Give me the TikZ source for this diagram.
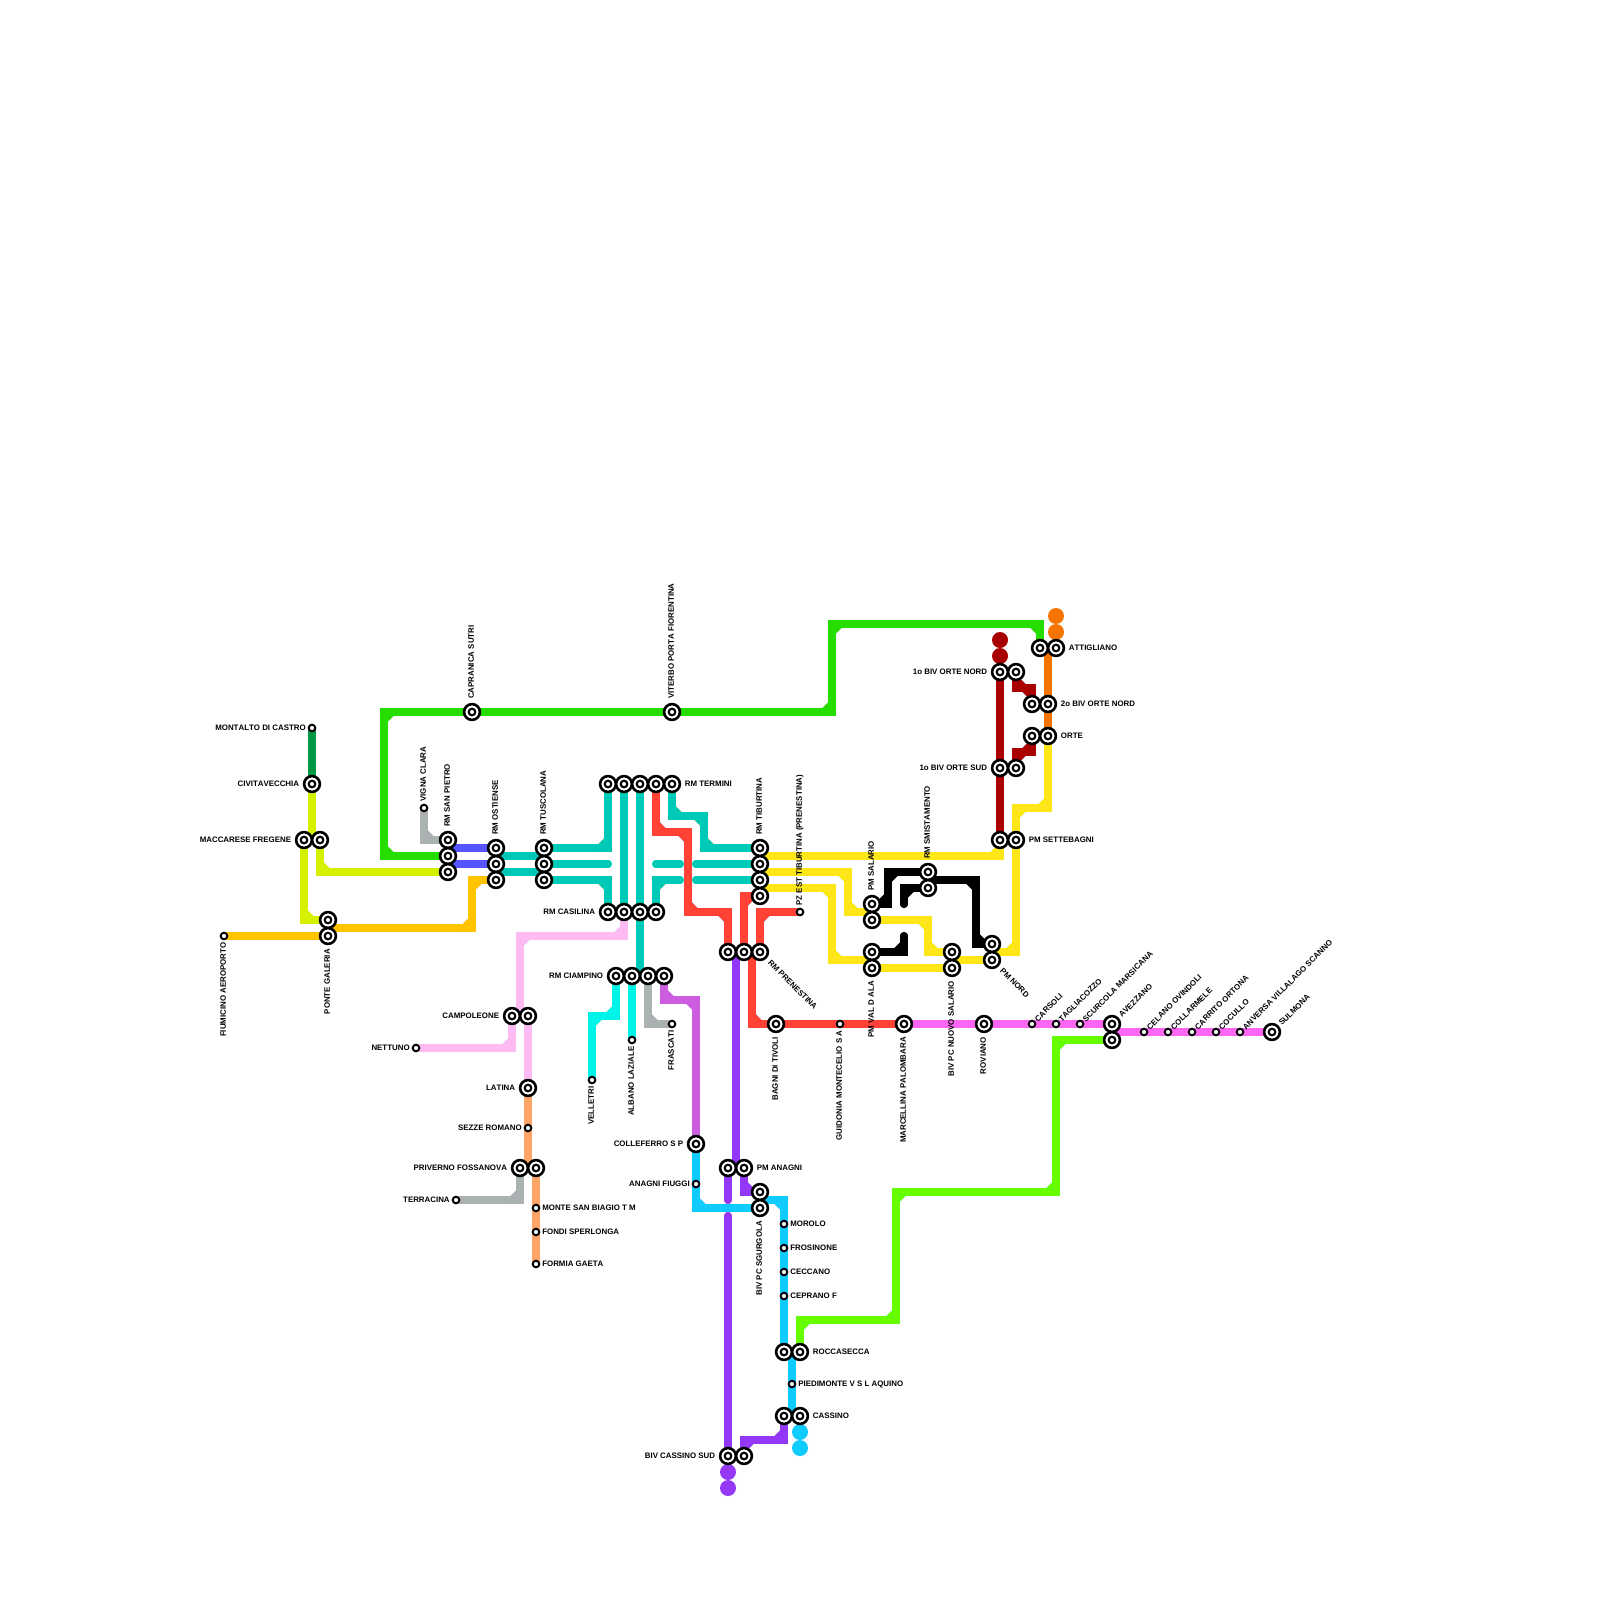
\documentclass[tikz,border=0pt]{standalone}
\usepackage{fontspec}
\setmainfont[Kerning=Off]{Liberation Sans}
\usetikzlibrary{backgrounds, decorations.pathreplacing}

\definecolor{railgreen}{HTML}{26DD00}
\definecolor{raildkgreen}{HTML}{009A44}
\definecolor{railcitron}{HTML}{D6F000}
\definecolor{railamber}{HTML}{FFC300}
\definecolor{railgrey}{HTML}{ABB0B2}
\definecolor{railblue}{HTML}{5555FF}
\definecolor{railteal}{HTML}{00C9B5}
\definecolor{railred}{HTML}{FF4136}
\definecolor{railyellow}{HTML}{FFE619}
\definecolor{railpink}{HTML}{FCBBF2}
\definecolor{railpeach}{HTML}{FFA566}
\definecolor{railaqua}{HTML}{00F5E8}
\definecolor{raillilac}{HTML}{CC5CE0}
\definecolor{railpurple}{HTML}{9438F5}
\definecolor{railsky}{HTML}{0FCBFF}
\definecolor{raildkred}{HTML}{A80000}
\definecolor{railorange}{HTML}{F57500}
\definecolor{railmagenta}{HTML}{FF66F5}
\definecolor{raillime}{HTML}{66FF00}

\newcommand{\metroline}[2]{%
  \def\railcol{#1}%
  \draw[track,#1] #2;
  \draw[chamfer] #2;}

\begin{document}
\begin{tikzpicture}[
    x=1pt, y=-1pt,
    track/.style={line width=8pt, line cap=round, line join=miter},
    chamfer/.style={rounded corners=8pt, decorate, decoration={show path construction,
        lineto code={\draw[track,\railcol] (\tikzinputsegmentfirst) -- (\tikzinputsegmentlast);},
        curveto code={\draw[track,\railcol] (\tikzinputsegmentfirst) -- (\tikzinputsegmentlast);}}},
    bigstop/.style={circle, draw=black, fill=white, line width=2.6pt, inner sep=0pt, minimum size=15.8pt,
                    path picture={\draw[line width=2.1pt] (path picture bounding box.center) circle (3.3pt);}},
    smallstop/.style={circle, draw=black, fill=white, line width=2pt, inner sep=0pt, minimum size=6.6pt},
    enddot/.style={circle, inner sep=0pt, minimum size=16pt},
    lbl/.style={inner sep=0pt, text height=5.7pt, text depth=0pt, font=\bfseries\fontsize{7.9}{8}\selectfont},
    lblw/.style={lbl, anchor=east},
    lble/.style={lbl, anchor=west},
    lblup/.style={lbl, rotate=90, anchor=west},
    lbldn/.style={lbl, rotate=90, anchor=east},
    lblne/.style={lbl, rotate=45, anchor=west},
    lblse/.style={lbl, rotate=-45, anchor=west}
]
\useasboundingbox (0,0) rectangle (1600,1600);

% stations
\foreach \n/\x/\y in {civita/312/784, macc1/304/840, macc2/320/840, galeria1/328/920, galeria2/328/936,
    capranica/472/712, viterbo/672/712, sanp1/448/840, sanp2/448/856, sanp3/448/872,
    ost1/496/848, ost2/496/864, ost3/496/880, tusc1/544/848, tusc2/544/864, tusc3/544/880,
    term1/608/784, term2/624/784, term3/640/784, term4/656/784, term5/672/784,
    tib1/760/848, tib2/760/864, tib3/760/880, tib4/760/896,
    cas1/608/912, cas2/624/912, cas3/640/912, cas4/656/912,
    ciamp1/616/976, ciamp2/632/976, ciamp3/648/976, ciamp4/664/976,
    pren1/728/952, pren2/744/952, pren3/760/952, bagni/776/1024,
    salario1/872/904, salario2/872/920, valala1/872/952, valala2/872/968,
    smist1/928/872, smist2/928/888, nsalario1/952/952, nsalario2/952/968,
    pmnord1/992/944, pmnord2/992/960, sette1/1000/840, sette2/1016/840,
    ortes1/1000/768, ortes2/1016/768, orten1/1000/672, orten2/1016/672,
    bivn1/1032/704, bivn2/1048/704, orte1/1032/736, orte2/1048/736,
    attig1/1040/648, attig2/1056/648, marcellina/904/1024, roviano/984/1024,
    avezz1/1112/1024, avezz2/1112/1040, sulmona/1272/1032,
    campo1/512/1016, campo2/528/1016, latina/528/1088, priv1/520/1168, priv2/536/1168,
    colleferro/696/1144, anagni1/728/1168, anagni2/744/1168, sgur1/760/1192, sgur2/760/1208,
    rocca1/784/1352, rocca2/800/1352, cassino1/784/1416, cassino2/800/1416,
    bivcas1/728/1456, bivcas2/744/1456}
    \node[bigstop] (\n) at (\x,\y) {};

\foreach \n/\x/\y in {montalto/312/728, fiumicino/224/936, vigna/424/808, pzest/800/912, guidonia/840/1024,
    carsoli/1032/1024, tagliacozzo/1056/1024, scurcola/1080/1024,
    celano/1144/1032, collarmele/1168/1032, carrito/1192/1032, cocullo/1216/1032, anversa/1240/1032,
    nettuno/416/1048, sezze/528/1128, terracina/456/1200,
    biagio/536/1208, fondi/536/1232, formia/536/1264,
    velletri/592/1080, albano/632/1040, frascati/672/1024, fiuggi/696/1184,
    morolo/784/1224, frosinone/784/1248, ceccano/784/1272, ceprano/784/1296, piedimonte/792/1384}
    \node[smallstop] (\n) at (\x,\y) {};

% points half way between two stations
\foreach \n/\x/\y in {maccm/312/840, galeriam/328/928, sanpa/448/848, sanpb/448/864,
    osta/496/856, ostb/496/872, tusca/544/856, tuscb/544/872,
    tiba/760/856, tibb/760/872, tibc/760/888, cas3m/640/976,
    salm/872/912, valm/872/960, nsalm/952/960, nordm/992/952, smistm/928/880,
    attigm/1048/648, avezzm/1112/1032, renm/736/952, pren2m/752/952,
    anagnim/736/1168, sgurm/760/1200, roccam/792/1352, cassm/792/1416,
    campom/520/1016, privm/528/1168}
    \coordinate (\n) at (\x,\y);

\begin{scope}[on background layer]
\foreach \n/\x/\y/\c in {orda/1056/616/railorange, ordb/1056/632/railorange, rda/1000/640/raildkred, rdb/1000/656/raildkred,
    skya/800/1432/railsky, skyb/800/1448/railsky, pua/728/1472/railpurple, pub/728/1488/railpurple}
    \node[enddot, fill=\c] (\n) at (\x,\y) {};

\metroline{raildkgreen}{(montalto.center) -- (civita.center)}
\metroline{railcitron}{(civita.center) -- (maccm)}
\metroline{railcitron}{(macc2.center) |- (sanp3.center)}
\metroline{railcitron}{(macc1.center) |- (galeria1.center)}
\metroline{railamber}{(fiumicino.center) -- (galeria2.center)}
\metroline{railamber}{(galeriam) -| (472,880) -- (ost3.center)}
\metroline{railgrey}{(vigna.center) |- (sanp1.center)}
\metroline{railgreen}{(sanp2.center) -| (384,712) -- (capranica.center) -- (viterbo.center) -| (832,624) -| (attig1.center)}
\metroline{railblue}{(sanpa) -- (ost1.center)}
\metroline{railblue}{(sanpb) -- (ost2.center)}

% rome knot
\metroline{railteal}{(osta) -- (tusca)}
\metroline{railteal}{(ostb) -- (tuscb)}
\metroline{railteal}{(tusc1.center) -| (term1.center)}
\metroline{railteal}{(tusc2.center) -- (608,864)}
\metroline{railteal}{(tusc3.center) -| (cas1.center)}
\metroline{railteal}{(term2.center) -- (cas2.center)}
\metroline{railteal}{(term3.center) -- (cas3m)}
\metroline{railteal}{(term5.center) |- (704,816) |- (tib1.center)}
\metroline{railteal}{(656,864) -- (680,864)}
\metroline{railteal}{(696,864) -- (tib2.center)}
\metroline{railteal}{(cas4.center) |- (680,880)}
\metroline{railteal}{(696,880) -- (tib3.center)}

\metroline{railred}{(term4.center) |- (688,832) |- (728,912) -- (pren1.center)}
\metroline{railred}{(pren2.center) |- (tib4.center)}
\metroline{railred}{(pren3.center) |- (pzest.center)}
\metroline{railred}{(pren2m) |- (bagni.center) -- (guidonia.center) -- (marcellina.center)}
\metroline{railmagenta}{(marcellina.center) -- (roviano.center) -- (carsoli.center) -- (tagliacozzo.center) -- (scurcola.center) -- (avezz1.center)}
\metroline{railmagenta}{(avezzm) -- (celano.center) -- (collarmele.center) -- (carrito.center) -- (cocullo.center) -- (anversa.center) -- (sulmona.center)}

\metroline{railyellow}{(tiba) -| (sette1.center)}
\metroline{railyellow}{(tibb) -| (848,912) -- (salm)}
\metroline{railyellow}{(tibc) -| (832,960) -- (valm)}
\metroline{railyellow}{(salario2.center) -| (928,952) -- (nsalario1.center)}
\metroline{railyellow}{(valala2.center) -- (nsalario2.center)}
\metroline{railyellow}{(nsalm) -- (pmnord2.center)}
\metroline{railyellow}{(nordm) -| (1016,808) -| (orte2.center)}

\metroline{raildkred}{(orten1.center) -- (ortes1.center) -- (sette1.center)}
\metroline{raildkred}{(orten2.center) |- (1032,688) -- (bivn1.center)}
\metroline{raildkred}{(ortes2.center) |- (1032,752) -- (orte1.center)}
\metroline{railorange}{(attigm) -- (bivn2.center) -- (orte2.center)}

\metroline{black}{(salario1.center) -| (888,872) -- (smist1.center)}
\metroline{black}{(904,904) |- (smist2.center)}
\metroline{black}{(smistm) -| (976,944) -- (pmnord1.center)}
\metroline{black}{(valala1.center) -| (904,936)}

% south lines
\metroline{railpink}{(cas2.center) |- (520,936) -- (campom)}
\metroline{railpink}{(campo1.center) |- (nettuno.center)}
\metroline{railpink}{(campo2.center) -- (latina.center)}
\metroline{railpeach}{(latina.center) -- (sezze.center) -- (privm)}
\metroline{railpeach}{(priv2.center) -- (biagio.center) -- (fondi.center) -- (formia.center)}
\metroline{railgrey}{(priv1.center) |- (terracina.center)}
\metroline{railaqua}{(ciamp1.center) |- (592,1016) -- (velletri.center)}
\metroline{railaqua}{(ciamp2.center) -- (albano.center)}
\metroline{railgrey}{(ciamp3.center) |- (frascati.center)}
\metroline{raillilac}{(ciamp4.center) |- (696,1000) -- (colleferro.center)}

\metroline{railpurple}{(renm) -- (anagnim)}
\metroline{railpurple}{(anagni2.center) |- (sgur1.center)}
\metroline{railpurple}{(anagni1.center) -- (728,1200)}
\metroline{railpurple}{(728,1216) -- (bivcas1.center)}
\metroline{railpurple}{(bivcas2.center) |- (784,1440) -- (cassino1.center)}
\metroline{railsky}{(colleferro.center) -- (fiuggi.center) |- (sgur2.center)}
\metroline{railsky}{(sgurm) -| (morolo.center) -- (frosinone.center) -- (ceccano.center) -- (ceprano.center) -- (rocca1.center)}
\metroline{railsky}{(roccam) -- (piedimonte.center) -- (cassm)}
\metroline{raillime}{(rocca2.center) |- (896,1320) |- (1056,1192) |- (avezz2.center)}
\end{scope}

% labels
\foreach \s/\g/\t in {montalto/1.8/MONTALTO DI CASTRO, civita/3.5/CIVITAVECCHIA, macc1/3.5/MACCARESE FREGENE,
    cas1/3.5/RM CASILINA, ciamp1/3.5/RM CIAMPINO, campo1/3.5/CAMPOLEONE, nettuno/1.8/NETTUNO, latina/3.5/LATINA,
    sezze/1.8/SEZZE ROMANO, priv1/3.5/PRIVERNO FOSSANOVA, terracina/1.8/TERRACINA, colleferro/3.5/COLLEFERRO S P,
    fiuggi/1.8/ANAGNI FIUGGI, bivcas1/3.5/BIV CASSINO SUD, orten1/3.5/1o BIV ORTE NORD, ortes1/3.5/1o BIV ORTE SUD}
    \node[lblw] (t\s) at ([xshift=-\g pt]\s.west) {\t};

\foreach \s/\g/\t in {term5/3.5/RM TERMINI, attig2/3.5/ATTIGLIANO, bivn2/3.5/2o BIV ORTE NORD, orte2/3.5/ORTE,
    sette2/3.5/PM SETTEBAGNI, biagio/1.8/MONTE SAN BIAGIO T M, fondi/1.8/FONDI SPERLONGA, formia/1.8/FORMIA GAETA,
    anagni2/3.5/PM ANAGNI, morolo/1.8/MOROLO, frosinone/1.8/FROSINONE, ceccano/1.8/CECCANO, ceprano/1.8/CEPRANO F,
    rocca2/3.5/ROCCASECCA, piedimonte/1.8/PIEDIMONTE V S L AQUINO, cassino2/3.5/CASSINO}
    \node[lble] (t\s) at ([xshift=\g pt]\s.east) {\t};

\foreach \s/\g/\t in {capranica/3.8/CAPRANICA SUTRI, viterbo/3.8/VITERBO PORTA FIORENTINA, vigna/2/VIGNA CLARA,
    sanp1/3.8/RM SAN PIETRO, ost1/3.8/RM OSTIENSE, tusc1/3.8/RM TUSCOLANA, tib1/3.8/RM TIBURTINA,
    pzest/2/PZ EST TIBURTINA (PRENESTINA), salario1/3.8/PM SALARIO, smist1/3.8/RM SMISTAMENTO}
    \node[lblup] (t\s) at ([xshift=-1pt,yshift=\g pt]\s.north) {\t};

\foreach \s/\g/\t in {fiumicino/2/FIUMICINO AEROPORTO, galeria2/3.8/PONTE GALERIA, velletri/2/VELLETRI,
    albano/2/ALBANO LAZIALE, frascati/2/FRASCATI, bagni/3.8/BAGNI DI TIVOLI, guidonia/2/GUIDONIA MONTECELIO S A,
    valala2/3.8/PM VAL D ALA, marcellina/3.8/MARCELLINA PALOMBARA, nsalario2/3.8/BIV PC NUOVO SALARIO,
    roviano/3.8/ROVIANO, sgur2/3.8/BIV PC SGURGOLA}
    \node[lbldn] (t\s) at ([xshift=-1pt,yshift=-\g pt]\s.south) {\t};

\foreach \s/\g/\t in {carsoli/0.8/CARSOLI, tagliacozzo/0.8/TAGLIACOZZO, scurcola/0.8/SCURCOLA MARSICANA,
    avezz1/1.5/AVEZZANO, celano/0.8/CELANO OVINDOLI, collarmele/0.8/COLLARMELE, carrito/0.8/CARRITO ORTONA,
    cocullo/0.8/COCULLO, anversa/0.8/ANVERSA VILLALAGO SCANNO, sulmona/1.5/SULMONA}
    \node[lblne] (t\s) at ([xshift=\g pt,yshift=\g pt]\s.45) {\t};

\foreach \s/\g/\t in {pren3/3/RM PRENESTINA, pmnord2/3/PM NORD}
    \node[lblse] (t\s) at ([xshift=\g pt,yshift=-\g pt]\s.-45) {\t};
\end{tikzpicture}
\end{document}
